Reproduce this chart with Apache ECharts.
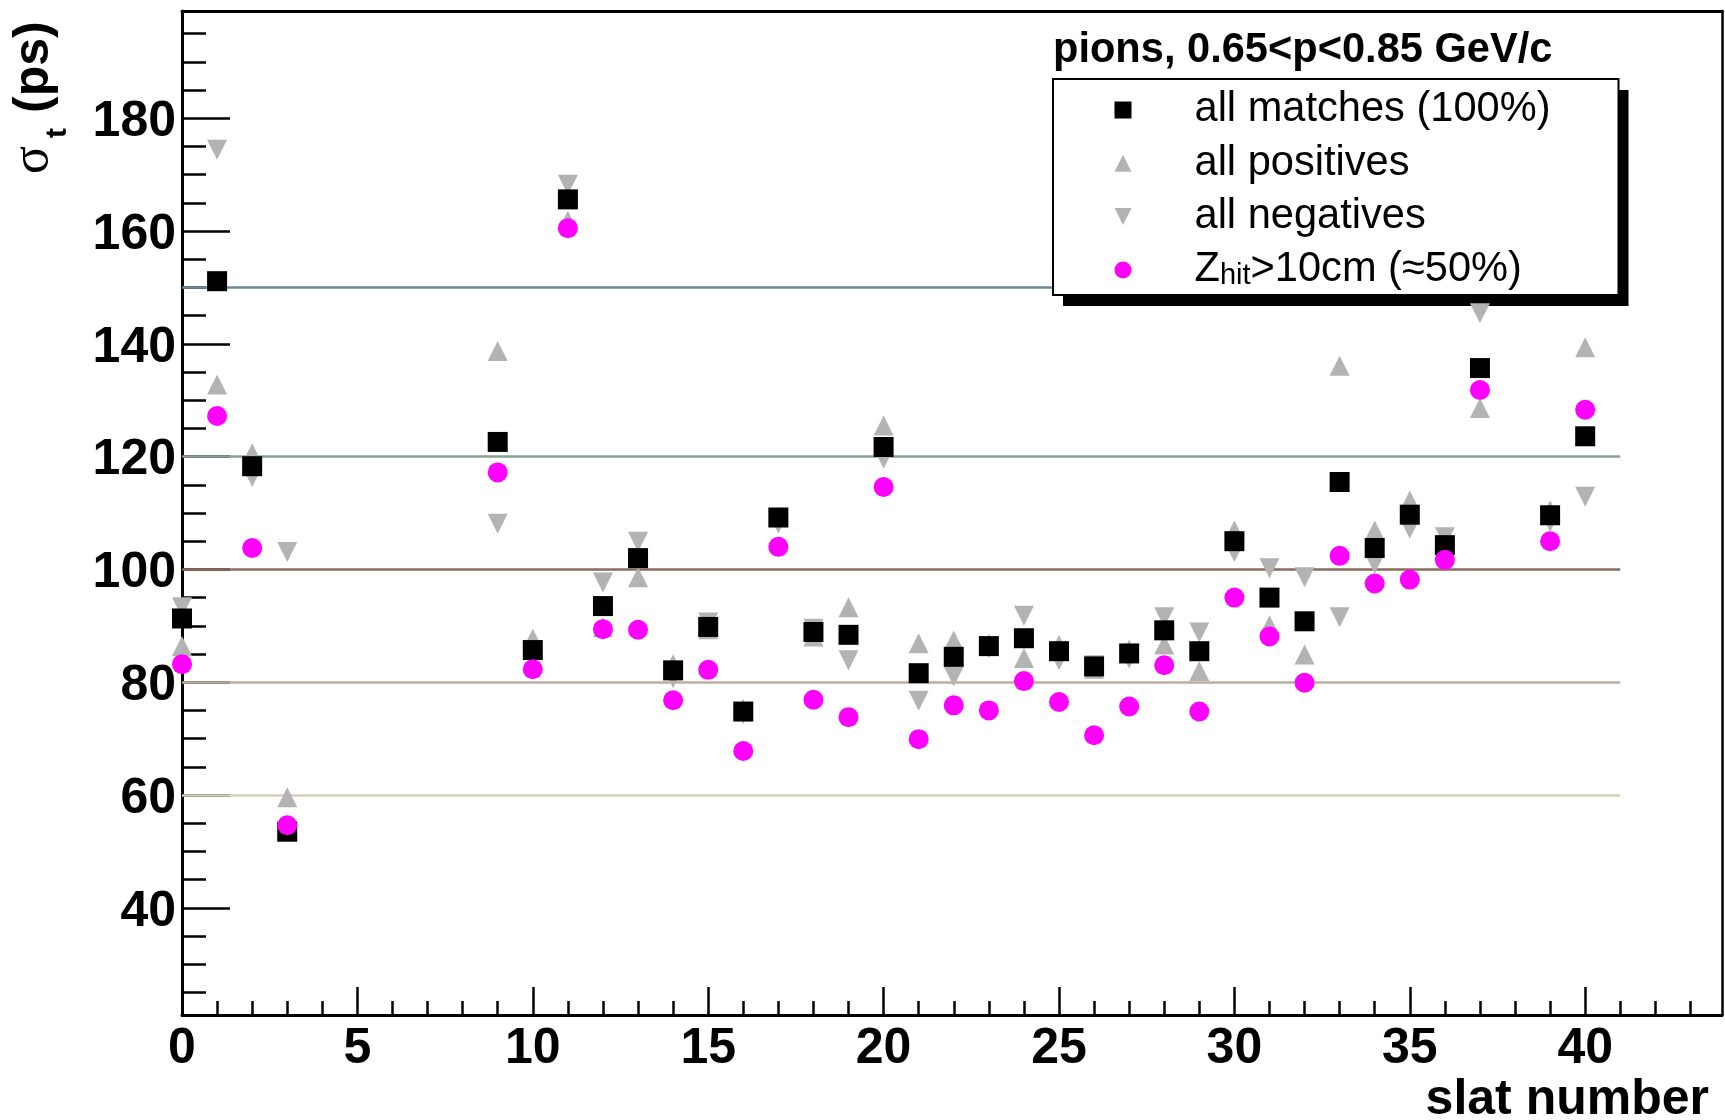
<!DOCTYPE html>
<html>
<head>
<meta charset="utf-8">
<script src="https://cdn.jsdelivr.net/npm/echarts@6/dist/echarts.min.js"></script>
<style>
html,body{margin:0;padding:0;background:#fff;}
#chart{width:1725px;height:1120px;}
</style>
</head>
<body>
<div id="chart"></div>
<script>
// ---- data ----
const slats        = [0, 1, 2, 3, 9, 10, 11, 12, 13, 14, 15, 16, 17, 18, 19, 20, 21, 22, 23, 24, 25, 26, 27, 28, 29, 30, 31, 32, 33, 34, 35, 36, 37, 39, 40];
const allMatches   = [91.3, 151.1, 118.3, 53.5, 122.6, 85.7, 165.6, 93.5, 102.0, 82.1, 89.8, 74.8, 109.2, 88.9, 88.4, 121.7, 81.6, 84.5, 86.4, 87.8, 85.5, 82.8, 85.1, 89.2, 85.5, 105.0, 95.0, 90.8, 115.5, 103.8, 109.7, 104.3, 135.7, 109.6, 123.6];
const allPositives = [86.4, 132.8, 120.6, 59.6, 138.7, 87.7, 161.8, 89.8, 98.6, 83.2, 89.4, 75.3, 109.4, 88.1, 93.3, 125.5, 86.9, 87.4, 86.8, 84.3, 86.6, 82.4, 85.8, 86.7, 82.0, 106.9, 90.1, 84.9, 136.1, 106.9, 112.2, 103.5, 128.6, 110.5, 139.4];
const allNegatives = [93.3, 174.4, 116.4, 103.1, 108.1, 84.5, 168.2, 97.7, 104.9, 80.7, 90.6, 74.3, 108.1, 89.5, 83.9, 119.6, 76.7, 81.0, 86.0, 91.8, 83.9, 83.0, 84.2, 91.5, 88.8, 103.1, 100.2, 98.6, 91.5, 101.0, 107.2, 105.7, 145.4, 108.4, 112.9];
const zHitAbove10  = [83.2, 127.2, 103.8, 54.65, 117.2, 82.3, 160.5, 89.4, 89.3, 76.8, 82.2, 67.8, 104.0, 76.9, 73.8, 114.6, 69.9, 75.9, 75.0, 80.2, 76.5, 70.6, 75.7, 83.0, 74.8, 95.0, 88.1, 79.9, 102.4, 97.5, 98.2, 101.7, 131.8, 105.0, 128.3];

const seriesNames  = ['all matches (100%)', 'all positives', 'all negatives', 'Zhit>10cm (≈50%)'];
const headerText   = 'pions, 0.65<p<0.85 GeV/c';

const xRange       = [0, 43.9];
const yRange       = [21, 199];
const xMajorTicks  = [0, 5, 10, 15, 20, 25, 30, 35, 40];
const xMinorTicks  = [1, 2, 3, 4, 6, 7, 8, 9, 11, 12, 13, 14, 16, 17, 18, 19, 21, 22, 23, 24, 26, 27, 28, 29, 31, 32, 33, 34, 36, 37, 38, 39, 41, 42, 43];
const yMajorTicks  = [40, 60, 80, 100, 120, 140, 160, 180];
const yMinorTicks  = [25, 30, 35, 45, 50, 55, 65, 70, 75, 85, 90, 95, 105, 110, 115, 125, 130, 135, 145, 150, 155, 165, 170, 175, 185, 190, 195];

const refLevels    = [150, 120, 100, 80, 60];
const refColors    = ['#6f879b', '#86a291', '#8a6a5a', '#bdae9f', '#d6cfb4'];
const refSpan      = [0, 41];

// ---- chart ----
const FONT = '"Liberation Sans", Arial, Helvetica, sans-serif';
const chart = echarts.init(document.getElementById('chart'), null, {renderer: 'canvas'});

function pts(vals) { return slats.map((s, i) => [s, vals[i]]); }

const legendData = [
  {name: seriesNames[0], icon: 'path://M0,0H10V10H0Z'},
  {name: seriesNames[1], icon: 'path://M5,0L10,10H0Z'},
  {name: seriesNames[2], icon: 'path://M0,0H10L5,10Z'},
  {name: seriesNames[3], icon: 'path://M0,5A5,5,0,1,1,10,5A5,5,0,1,1,0,5Z'}
];

function makeLegend(isShadow) {
  return {
    orient: 'vertical',
    left: isShadow ? 1063 : 1053,
    top: isShadow ? 90 : 79,
    z: isShadow ? 3 : 4,
    padding: [10, 68, 4, 61.5],
    itemWidth: 17, itemHeight: 17, itemGap: 11.3,
    selectedMode: false,
    backgroundColor: isShadow ? '#000000' : '#ffffff',
    borderColor: '#000000', borderWidth: isShadow ? 0 : 2,
    data: legendData,
    formatter: function (name) {
      if (name === seriesNames[3]) return '{n|Z}{sub|hit}{n|>10cm (≈50%)}';
      return name;
    },
    textStyle: {
      fontFamily: FONT, fontSize: 41.6, lineHeight: 41, color: '#000',
      padding: [0, 0, 0, 58],
      rich: {
        n: {fontFamily: FONT, fontSize: 41.6, lineHeight: 41, color: '#000'},
        sub: {fontFamily: FONT, fontSize: 29, lineHeight: 19, verticalAlign: 'bottom', color: '#000'}
      }
    }
  };
}

const option = {
  animation: false,
  backgroundColor: '#ffffff',
  grid: {left: 182, right: 3, top: 11, bottom: 105, containLabel: false, show: false},
  title: {
    text: headerText,
    left: 1053, top: 30, padding: 0,
    textStyle: {fontFamily: FONT, fontSize: 41.6, fontWeight: 'bold', color: '#000', lineHeight: 41}
  },
  legend: [makeLegend(false), makeLegend(true)],
  xAxis: [
    {
      type: 'value', min: xRange[0], max: xRange[1], position: 'bottom',
      axisLine: {show: true, onZero: false, lineStyle: {color: '#000', width: 3}},
      axisTick: {show: true, inside: true, length: 28, customValues: xMajorTicks, lineStyle: {color: '#000', width: 2.5}},
      axisLabel: {show: true, customValues: xMajorTicks, margin: 9, fontFamily: FONT, fontSize: 50, lineHeight: 50, fontWeight: 'bold', color: '#000'},
      splitLine: {show: false}
    },
    {
      type: 'value', min: xRange[0], max: xRange[1], position: 'bottom',
      axisLine: {show: false, onZero: false},
      axisTick: {show: true, inside: true, length: 14, customValues: xMinorTicks, lineStyle: {color: '#000', width: 2.5}},
      axisLabel: {show: false}, splitLine: {show: false}
    },
    {
      type: 'value', min: xRange[0], max: xRange[1], position: 'top',
      axisLine: {show: true, onZero: false, lineStyle: {color: '#000', width: 3}},
      axisTick: {show: false}, axisLabel: {show: false}, splitLine: {show: false}
    }
  ],
  yAxis: [
    {
      type: 'value', min: yRange[0], max: yRange[1], position: 'left',
      axisLine: {show: true, onZero: false, lineStyle: {color: '#000', width: 3}},
      axisTick: {show: true, inside: true, length: 48, customValues: yMajorTicks, lineStyle: {color: '#000', width: 2.5}},
      axisLabel: {show: true, customValues: yMajorTicks, margin: 6, verticalAlign: 'top', lineHeight: 8, fontFamily: FONT, fontSize: 50, fontWeight: 'bold', color: '#000'},
      splitLine: {show: false}
    },
    {
      type: 'value', min: yRange[0], max: yRange[1], position: 'left',
      axisLine: {show: false, onZero: false},
      axisTick: {show: true, inside: true, length: 24, customValues: yMinorTicks, lineStyle: {color: '#000', width: 2.5}},
      axisLabel: {show: false}, splitLine: {show: false}
    },
    {
      type: 'value', min: yRange[0], max: yRange[1], position: 'right',
      axisLine: {show: true, onZero: false, lineStyle: {color: '#000', width: 2.5}},
      axisTick: {show: false}, axisLabel: {show: false}, splitLine: {show: false}
    }
  ],
  series: [
    {
      name: seriesNames[0], type: 'scatter', z: 4,
      symbol: 'rect', symbolSize: 20,
      itemStyle: {color: '#000000', opacity: 1},
      data: pts(allMatches)
    },
    {
      name: seriesNames[1], type: 'scatter', z: 3,
      symbol: 'triangle', symbolSize: 20,
      itemStyle: {color: '#b3b3b3', opacity: 1},
      data: pts(allPositives)
    },
    {
      name: seriesNames[2], type: 'scatter', z: 3,
      symbol: 'triangle', symbolSize: 20, symbolRotate: 180,
      itemStyle: {color: '#b3b3b3', opacity: 1},
      data: pts(allNegatives)
    },
    {
      name: seriesNames[3], type: 'scatter', z: 5,
      symbol: 'circle', symbolSize: 20,
      itemStyle: {color: '#ff00ff', opacity: 1},
      data: pts(zHitAbove10)
    },
    {
      name: 'reference levels', type: 'line', z: 1, data: [],
      markLine: {
        z: 1, silent: true, symbol: 'none', animation: false,
        label: {show: false},
        data: refLevels.map((v, i) => [
          {coord: [refSpan[0], v], lineStyle: {color: refColors[i], width: 2.5, type: 'solid'}},
          {coord: [refSpan[1], v]}
        ])
      }
    }
  ],
  graphic: [
    {type: 'text', x: 33, y: 174, rotation: Math.PI / 2, style: {text: 'σ', font: '52px "Liberation Serif", "DejaVu Serif", serif', fill: '#000', align: 'left', verticalAlign: 'middle'}},
    {type: 'text', x: 57.5, y: 138, rotation: Math.PI / 2, style: {text: 't', font: 'bold 30px ' + FONT, fill: '#000', align: 'left', verticalAlign: 'middle'}},
    {type: 'text', x: 34, y: 113, rotation: Math.PI / 2, style: {text: '(ps)', font: 'bold 50px ' + FONT, fill: '#000', align: 'left', verticalAlign: 'middle'}},
    {type: 'text', x: 1709, y: 1100, style: {text: 'slat number', font: 'bold 50px ' + FONT, fill: '#000', align: 'right', verticalAlign: 'middle'}}
  ]
};

chart.setOption(option);
</script>
</body>
</html>
